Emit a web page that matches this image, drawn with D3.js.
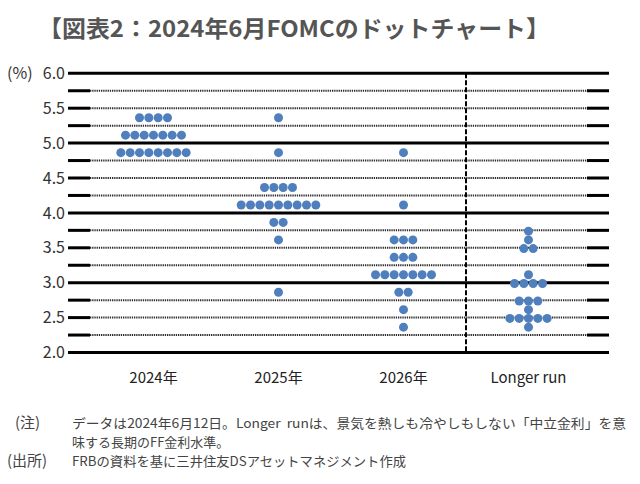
<!DOCTYPE html>
<html><head><meta charset="utf-8">
<script src="https://cdn.jsdelivr.net/npm/d3@7"></script>
<style>
html,body{margin:0;padding:0;background:#fff;}
svg{display:block;font-family:"Noto Sans CJK JP","Noto Sans",sans-serif;}
</style></head>
<body><svg id="c" width="640" height="484"></svg>
<script>
const titleText = "【図表2：2024年6月FOMCのドットチャート】";
const categories = ["2024年", "2025年", "2026年", "Longer run"];
const rates2024 = [5.375, 5.125, 4.875];
const counts2024 = [4, 7, 8];
const rates2025 = [5.375, 4.875, 4.375, 4.125, 3.875, 3.625, 2.875];
const counts2025 = [1, 1, 4, 9, 2, 1, 1];
const rates2026 = [4.875, 4.125, 3.625, 3.375, 3.125, 2.875, 2.625, 2.375];
const counts2026 = [1, 1, 3, 3, 7, 2, 1, 1];
const ratesLonger = [3.75, 3.625, 3.5, 3.125, 3.0, 2.75, 2.625, 2.5, 2.375];
const countsLonger = [1, 1, 2, 1, 4, 3, 1, 5, 1];
const yTicks = [2.0, 2.5, 3.0, 3.5, 4.0, 4.5, 5.0, 5.5, 6.0];
const majorLines = [2, 3, 4, 5, 6];
const minorLines = [2.25, 2.5, 2.75, 3.25, 3.5, 3.75, 4.25, 4.5, 4.75, 5.25, 5.5, 5.75];
const noteLines = [
  ["(注)", "データは2024年6月12日。Longer  runは、景気を熱しも冷やしもしない「中立金利」を意"],
  ["", "味する長期のFF金利水準。"],
  ["(出所)", "FRBの資料を基に三井住友DSアセットマネジメント作成"]
];

const series = [
  {cat: categories[0], rates: rates2024, counts: counts2024},
  {cat: categories[1], rates: rates2025, counts: counts2025},
  {cat: categories[2], rates: rates2026, counts: counts2026},
  {cat: categories[3], rates: ratesLonger, counts: countsLonger}
];

const svg = d3.select("#c");
const x = d3.scaleBand().domain(categories).range([91, 591]);
const y = d3.scaleLinear().domain([2, 6]).range([352.5, 73.3]);
const gridL = 68, gridR = 609, capW = 22;

// title
svg.append("text").attr("x", 38).attr("y", 37)
  .attr("font-size", 23).attr("font-weight", "bold").attr("fill", "#555")
  .attr("textLength", 512).attr("lengthAdjust", "spacingAndGlyphs")
  .text(titleText);

// minor lines: dotted body + solid caps
const minor = svg.append("g");
minor.selectAll("line.dot").data(minorLines).join("line")
  .attr("x1", gridL + capW).attr("x2", gridR - capW)
  .attr("y1", d => y(d)).attr("y2", d => y(d))
  .attr("stroke", "#2a2a2a").attr("stroke-width", 2).attr("stroke-dasharray", "1.3,0.9");
minor.selectAll("line.capl").data(minorLines).join("line")
  .attr("x1", gridL).attr("x2", gridL + capW)
  .attr("y1", d => y(d)).attr("y2", d => y(d))
  .attr("stroke", "#000").attr("stroke-width", 3);
minor.selectAll("line.capr").data(minorLines).join("line")
  .attr("class", "capr")
  .attr("x1", gridR - capW).attr("x2", gridR)
  .attr("y1", d => y(d)).attr("y2", d => y(d))
  .attr("stroke", "#000").attr("stroke-width", 3);

// major lines
svg.append("g").selectAll("line").data(majorLines).join("line")
  .attr("x1", gridL).attr("x2", gridR)
  .attr("y1", d => y(d)).attr("y2", d => y(d))
  .attr("stroke", "#000").attr("stroke-width", 3);

// vertical dashed separator
const sepX = x(categories[3]);
svg.append("line").attr("x1", sepX).attr("x2", sepX)
  .attr("y1", y(6)).attr("y2", y(2))
  .attr("stroke", "#000").attr("stroke-width", 2).attr("stroke-dasharray", "5,2");

// y axis labels
const yAxis = d3.axisLeft(y).tickValues(yTicks).tickFormat(d3.format(".1f")).tickSize(0).tickPadding(0);
const yg = svg.append("g").attr("transform", `translate(${gridL - 3},0)`).call(yAxis);
yg.select(".domain").remove();
yg.selectAll("text").attr("font-size", 16).attr("fill", "#333")
  .attr("font-family", "'Noto Sans CJK JP','Noto Sans',sans-serif");
svg.append("text").attr("x", 7).attr("y", y(6)).attr("dy", "0.35em")
  .attr("font-size", 16).attr("fill", "#333").text("(%)");

// x axis labels
const xAxis = d3.axisBottom(x).tickSize(0).tickPadding(0);
const xg = svg.append("g").attr("transform", `translate(0,372)`).call(xAxis);
xg.select(".domain").remove();
xg.selectAll("text").attr("font-size", 15).attr("fill", "#222")
  .attr("font-family", "'Noto Sans CJK JP','Noto Sans',sans-serif");

// dots
const dotStep = 9.33, r = 4.5;
const dots = [];
series.forEach(s => {
  s.rates.forEach((rate, i) => {
    const n = s.counts[i];
    for (let k = 0; k < n; k++) {
      dots.push({cat: s.cat, rate: rate, off: (k - (n - 1) / 2) * dotStep});
    }
  });
});
svg.append("g").selectAll("circle").data(dots).join("circle")
  .attr("cx", d => x(d.cat) + x.bandwidth() / 2 + d.off)
  .attr("cy", d => y(d.rate) + 0.8)
  .attr("r", r).attr("fill", "#4f7fbc");

// notes
const ng = svg.append("g").attr("font-size", 13).attr("fill", "#444");
const noteY = [428, 447, 466];
const noteW = [554, 0, 334];
noteLines.forEach((ln, i) => {
  if (ln[0]) ng.append("text").attr("x", ln[0] === "(注)" ? 15 : 7).attr("y", noteY[i])
    .attr("font-size", 15).text(ln[0]);
  const t = ng.append("text").attr("x", 72).attr("y", noteY[i]).attr("xml:space", "preserve")
    .style("white-space", "pre").text(ln[1]);
  if (noteW[i]) t.attr("textLength", noteW[i]).attr("lengthAdjust", "spacingAndGlyphs");
});
</script></body></html>
